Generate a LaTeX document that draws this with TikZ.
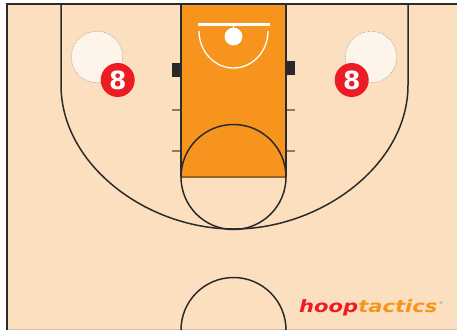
\documentclass[tikz,border=0pt]{standalone}
\usepackage{fontspec}
\setmainfont{DejaVu Sans}
\newfontfamily\logofont[FakeStretch=1.24]{DejaVu Sans}
\definecolor{court}{HTML}{FCDFBF}
\definecolor{lane}{HTML}{F7941E}
\definecolor{line}{HTML}{2B2B2B}
\definecolor{spot}{HTML}{FDF4EA}
\definecolor{badge}{HTML}{ED1C24}
\tikzset{
  courtline/.style={draw=line,line width=1.5pt},
  hash/.style={draw=line!55!court,line width=2pt},
  block/.style={fill=line!95!black,draw=none},
  spotc/.style={circle,fill=spot,draw=gray!70,densely dotted,line width=.7pt,minimum size=51.5pt,inner sep=0},
  player/.style={circle,fill=badge,text=white,minimum size=34pt,inner sep=0,font=\bfseries\fontsize{25}{25}\selectfont},
}
\begin{document}
\begin{tikzpicture}[x=1pt,y=-1pt]
\useasboundingbox (0,0) rectangle (457,330);
\fill[white] (0,0) rectangle (457,330);
\fill[court] (7,4) rectangle (457,330);
\draw[court!70!gray,line width=1pt] (7,329) -- (457,329);
\fill[lane] (181,4) rectangle (286,177);
% hash marks and blocks
\draw[hash] (172,110) -- (181,110);
\draw[hash] (172,151) -- (181,151);
\draw[hash] (286,110) -- (295,110);
\draw[hash] (286,151) -- (295,151);
\fill[block] (172,63) rectangle (181,76.5);
\fill[block] (286,61) rectangle (295,75);
% three point line
\draw[courtline] (61,4) -- (61,85) .. controls (61,165) and (147,229) .. (234,229)
  .. controls (321,229) and (408,165) .. (408,85) -- (408,4);
% lane
\draw[courtline] (181,4) -- (181,177);
\draw[courtline] (286,4) -- (286,177);
\draw[draw=line!45!lane,line width=1.6pt] (181,177) -- (286,177);
\draw[courtline] (181,177) arc[start angle=180,end angle=540,radius=52.5];
% center circle
\draw[courtline] (181,330) arc[start angle=180,end angle=360,radius=52.5];
% hoop
\draw[white,line width=3pt] (198,24.5) -- (270,24.5);
\draw[white,line width=1.3pt] (199,31) arc[start angle=180,end angle=0,x radius=34.5,y radius=37];
\draw[white,line width=1.5pt] (233.5,25) -- (233.5,30);
\fill[white] (233.5,36.5) circle (8.9);
% border
\draw[line,line width=1.6pt] (7,330) -- (7,4) -- (457,4);
% spots
\node[spotc] (s1) at (97,57) {};
\node[spotc] (s2) at (371,57) {};
\node[player] (p1) at (117.7,80) {8};
\node[player] (p2) at (351.7,80) {8};
% logo
\node[anchor=west,inner sep=0,font=\logofont\bfseries\itshape\fontsize{17}{17}\selectfont] (logo) at (299,307.5)
  {\textcolor{badge}{hoop}\textcolor{lane}{tactics}};
\node[inner sep=0,text=gray,font=\fontsize{4}{4}\selectfont] (reg) at (441,303) {®};
\end{tikzpicture}
\end{document}
